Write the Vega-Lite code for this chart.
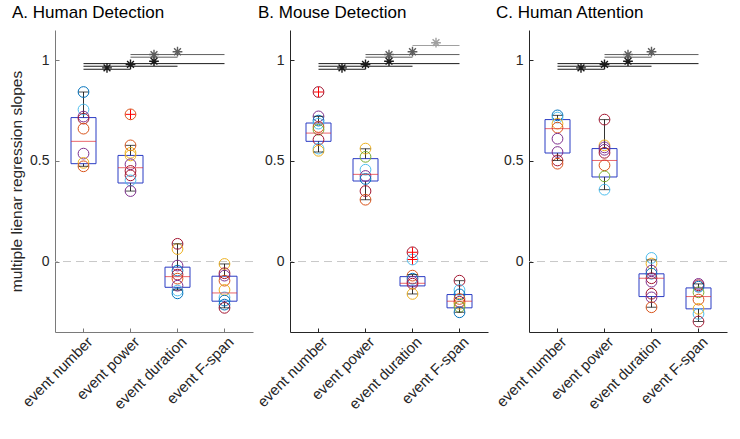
{
"$schema":"https://vega.github.io/schema/vega-lite/v6.json",
"padding":{"left":9,"top":4,"right":0,"bottom":0},
"config":{"view":{"stroke":null},"font":"Liberation Sans","axis":{"grid":false,"labelFontSize":14,"labelColor":"#262626","labelFont":"Liberation Sans","titleFont":"Liberation Sans"},"axisX":{"labelFontSize":15,"labelOverlap":false,"labelOffset":6,"labelPadding":11},"title":{"font":"Liberation Sans"}},
"datasets":{
"pts":[
{"p":"A","k":1,"v":0.842,"c":"blue"},{"p":"A","k":1,"v":0.755,"c":"cyan"},{"p":"A","k":1,"v":0.72,"c":"purple"},{"p":"A","k":1,"v":0.71,"c":"darkred"},{"p":"A","k":1,"v":0.66,"c":"orange"},{"p":"A","k":1,"v":0.536,"c":"purple"},{"p":"A","k":1,"v":0.49,"c":"yellow"},{"p":"A","k":1,"v":0.473,"c":"orange"},
{"p":"A","k":2,"v":0.731,"c":"orange"},{"p":"A","k":2,"v":0.577,"c":"orange"},{"p":"A","k":2,"v":0.54,"c":"yellow"},{"p":"A","k":2,"v":0.527,"c":"yellow"},{"p":"A","k":2,"v":0.483,"c":"purple"},{"p":"A","k":2,"v":0.45,"c":"darkred"},{"p":"A","k":2,"v":0.428,"c":"darkred"},{"p":"A","k":2,"v":0.403,"c":"cyan"},{"p":"A","k":2,"v":0.35,"c":"purple"},
{"p":"A","k":3,"v":0.088,"c":"darkred"},{"p":"A","k":3,"v":0.062,"c":"yellow"},{"p":"A","k":3,"v":-0.02,"c":"purple"},{"p":"A","k":3,"v":-0.045,"c":"blue"},{"p":"A","k":3,"v":-0.065,"c":"darkred"},{"p":"A","k":3,"v":-0.085,"c":"orange"},{"p":"A","k":3,"v":-0.12,"c":"purple"},{"p":"A","k":3,"v":-0.144,"c":"cyan"},{"p":"A","k":3,"v":-0.158,"c":"blue"},
{"p":"A","k":4,"v":-0.012,"c":"yellow"},{"p":"A","k":4,"v":-0.058,"c":"darkred"},{"p":"A","k":4,"v":-0.07,"c":"purple"},{"p":"A","k":4,"v":-0.095,"c":"orange"},{"p":"A","k":4,"v":-0.141,"c":"yellow"},{"p":"A","k":4,"v":-0.178,"c":"cyan"},{"p":"A","k":4,"v":-0.194,"c":"blue"},{"p":"A","k":4,"v":-0.214,"c":"blue"},{"p":"A","k":4,"v":-0.23,"c":"darkred"},
{"p":"B","k":1,"v":0.842,"c":"darkred"},{"p":"B","k":1,"v":0.721,"c":"purple"},{"p":"B","k":1,"v":0.7,"c":"blue"},{"p":"B","k":1,"v":0.685,"c":"cyan"},{"p":"B","k":1,"v":0.668,"c":"orange"},{"p":"B","k":1,"v":0.655,"c":"green"},{"p":"B","k":1,"v":0.605,"c":"darkred"},{"p":"B","k":1,"v":0.561,"c":"cyan"},{"p":"B","k":1,"v":0.55,"c":"yellow"},
{"p":"B","k":2,"v":0.561,"c":"yellow"},{"p":"B","k":2,"v":0.52,"c":"green"},{"p":"B","k":2,"v":0.456,"c":"cyan"},{"p":"B","k":2,"v":0.425,"c":"purple"},{"p":"B","k":2,"v":0.41,"c":"blue"},{"p":"B","k":2,"v":0.35,"c":"darkred"},{"p":"B","k":2,"v":0.307,"c":"orange"},
{"p":"B","k":3,"v":0.046,"c":"darkred"},{"p":"B","k":3,"v":0.01,"c":"cyan"},{"p":"B","k":3,"v":-0.07,"c":"orange"},{"p":"B","k":3,"v":-0.085,"c":"blue"},{"p":"B","k":3,"v":-0.1,"c":"purple"},{"p":"B","k":3,"v":-0.11,"c":"darkred"},{"p":"B","k":3,"v":-0.161,"c":"yellow"},
{"p":"B","k":4,"v":-0.095,"c":"darkred"},{"p":"B","k":4,"v":-0.141,"c":"cyan"},{"p":"B","k":4,"v":-0.163,"c":"blue"},{"p":"B","k":4,"v":-0.186,"c":"orange"},{"p":"B","k":4,"v":-0.2,"c":"darkred"},{"p":"B","k":4,"v":-0.21,"c":"yellow"},{"p":"B","k":4,"v":-0.225,"c":"green"},{"p":"B","k":4,"v":-0.252,"c":"blue"},
{"p":"C","k":1,"v":0.726,"c":"blue"},{"p":"C","k":1,"v":0.715,"c":"cyan"},{"p":"C","k":1,"v":0.685,"c":"yellow"},{"p":"C","k":1,"v":0.665,"c":"orange"},{"p":"C","k":1,"v":0.61,"c":"purple"},{"p":"C","k":1,"v":0.544,"c":"purple"},{"p":"C","k":1,"v":0.502,"c":"darkred"},{"p":"C","k":1,"v":0.486,"c":"orange"},
{"p":"C","k":2,"v":0.705,"c":"darkred"},{"p":"C","k":2,"v":0.577,"c":"yellow"},{"p":"C","k":2,"v":0.567,"c":"purple"},{"p":"C","k":2,"v":0.555,"c":"purple"},{"p":"C","k":2,"v":0.54,"c":"darkred"},{"p":"C","k":2,"v":0.478,"c":"orange"},{"p":"C","k":2,"v":0.423,"c":"green"},{"p":"C","k":2,"v":0.357,"c":"cyan"},
{"p":"C","k":3,"v":0.018,"c":"cyan"},{"p":"C","k":3,"v":-0.01,"c":"yellow"},{"p":"C","k":3,"v":-0.045,"c":"purple"},{"p":"C","k":3,"v":-0.06,"c":"blue"},{"p":"C","k":3,"v":-0.083,"c":"darkred"},{"p":"C","k":3,"v":-0.1,"c":"purple"},{"p":"C","k":3,"v":-0.16,"c":"darkred"},{"p":"C","k":3,"v":-0.178,"c":"purple"},{"p":"C","k":3,"v":-0.227,"c":"orange"},
{"p":"C","k":4,"v":-0.111,"c":"purple"},{"p":"C","k":4,"v":-0.118,"c":"darkred"},{"p":"C","k":4,"v":-0.125,"c":"blue"},{"p":"C","k":4,"v":-0.153,"c":"green"},{"p":"C","k":4,"v":-0.189,"c":"orange"},{"p":"C","k":4,"v":-0.235,"c":"yellow"},{"p":"C","k":4,"v":-0.26,"c":"cyan"},{"p":"C","k":4,"v":-0.298,"c":"darkred"}
],
"box":[
{"p":"A","k":1,"q1":0.486,"med":0.597,"q3":0.715,"lo":0.473,"hi":0.842},
{"p":"A","k":2,"q1":0.39,"med":0.466,"q3":0.527,"lo":0.35,"hi":0.577},
{"p":"A","k":3,"q1":-0.128,"med":-0.075,"q3":-0.028,"lo":-0.141,"hi":0.088},
{"p":"A","k":4,"q1":-0.197,"med":-0.156,"q3":-0.073,"lo":-0.23,"hi":-0.012},
{"p":"B","k":1,"q1":0.597,"med":0.638,"q3":0.688,"lo":0.544,"hi":0.721},
{"p":"B","k":2,"q1":0.4,"med":0.433,"q3":0.511,"lo":0.307,"hi":0.56},
{"p":"B","k":3,"q1":-0.121,"med":-0.108,"q3":-0.075,"lo":-0.161,"hi":-0.065},
{"p":"B","k":4,"q1":-0.23,"med":-0.197,"q3":-0.164,"lo":-0.252,"hi":-0.095},
{"p":"C","k":1,"q1":0.539,"med":0.66,"q3":0.705,"lo":0.502,"hi":0.726},
{"p":"C","k":2,"q1":0.42,"med":0.502,"q3":0.561,"lo":0.357,"hi":0.705},
{"p":"C","k":3,"q1":-0.174,"med":-0.083,"q3":-0.061,"lo":-0.227,"hi":0.008},
{"p":"C","k":4,"q1":-0.235,"med":-0.174,"q3":-0.131,"lo":-0.298,"hi":-0.111}
],
"out":[{"p":"A","k":2,"v":0.731},{"p":"B","k":1,"v":0.842},{"p":"B","k":3,"v":0.046},{"p":"B","k":3,"v":0.01}],
"sig":[
{"p":"A","a":1,"b":2,"ly":0.955,"sx":1.5,"sy":0.962,"g":"k"},{"p":"A","a":1,"b":3,"ly":0.97,"sx":2,"sy":0.979,"g":"k"},{"p":"A","a":1,"b":4,"ly":0.983,"sx":2.5,"sy":0.995,"g":"k"},{"p":"A","a":2,"b":3,"ly":1.015,"sx":2.5,"sy":1.028,"g":"g"},{"p":"A","a":2,"b":4,"ly":1.028,"sx":3,"sy":1.042,"g":"g"},
{"p":"B","a":1,"b":2,"ly":0.955,"sx":1.5,"sy":0.962,"g":"k"},{"p":"B","a":1,"b":3,"ly":0.97,"sx":2,"sy":0.979,"g":"k"},{"p":"B","a":1,"b":4,"ly":0.983,"sx":2.5,"sy":0.995,"g":"k"},{"p":"B","a":2,"b":3,"ly":1.015,"sx":2.5,"sy":1.028,"g":"g"},{"p":"B","a":2,"b":4,"ly":1.028,"sx":3,"sy":1.042,"g":"g"},{"p":"B","a":3,"b":4,"ly":1.073,"sx":3.5,"sy":1.087,"g":"lg"},
{"p":"C","a":1,"b":2,"ly":0.955,"sx":1.5,"sy":0.962,"g":"k"},{"p":"C","a":1,"b":3,"ly":0.97,"sx":2,"sy":0.979,"g":"k"},{"p":"C","a":1,"b":4,"ly":0.983,"sx":2.5,"sy":0.995,"g":"k"},{"p":"C","a":2,"b":3,"ly":1.015,"sx":2.5,"sy":1.028,"g":"g"},{"p":"C","a":2,"b":4,"ly":1.028,"sx":3,"sy":1.042,"g":"g"}
]
},
"spacing":0,
"hconcat":[
{"width":198,"height":302,
"title":{"text":"A. Human Detection","anchor":"start","frame":"group","dx":-43,"fontSize":17,"fontWeight":"normal","color":"#000000","offset":8},
"layer":[
{"data":{"values":[{}]},"mark":{"type":"rule","color":"#c8c8c8","strokeDash":[8,5]},"encoding":{"y":{"datum":0,"type":"quantitative"}}},
{"data":{"name":"box"},"transform":[{"filter":"datum.p=='A'"}],"mark":{"type":"bar","width":25,"fill":"transparent","stroke":"#2b3cc4","strokeWidth":1},
 "encoding":{"x":{"field":"k","type":"quantitative","scale":{"domain":[0.5,4.5],"nice":false,"zero":false},"axis":{"title":null,"values":[1,2,3,4],"labelExpr":"datum.value==1?'event number':datum.value==2?'event power':datum.value==3?'event duration':'event F-span'","labelAngle":-45,"labelAlign":"right","labelBaseline":"middle","domainColor":"#7a7a7a","tickColor":"#7a7a7a","tickSize":-4}},
 "y":{"field":"q1","type":"quantitative","scale":{"domain":[-0.35,1.15],"nice":false,"zero":false},"axis":{"title":"multiple lienar regression slopes","values":[0,0.5,1],"format":"~g","domainColor":"#7a7a7a","tickColor":"#7a7a7a","tickSize":-4,"labelPadding":10,"titleFontSize":15.5,"titleFontWeight":"normal","titleColor":"#262626","titlePadding":5}},
 "y2":{"field":"q3"}}},
{"data":{"name":"box"},"transform":[{"filter":"datum.p=='A'"}],"mark":{"type":"rule","color":"#333333"},"encoding":{"x":{"field":"k","type":"quantitative"},"y":{"field":"q3","type":"quantitative"},"y2":{"field":"hi"}}},
{"data":{"name":"box"},"transform":[{"filter":"datum.p=='A'"}],"mark":{"type":"rule","color":"#333333"},"encoding":{"x":{"field":"k","type":"quantitative"},"y":{"field":"lo","type":"quantitative"},"y2":{"field":"q1"}}},
{"data":{"name":"pts"},"transform":[{"filter":"datum.p=='A'"}],"mark":{"type":"point","shape":"circle","filled":false,"size":115,"strokeWidth":1,"opacity":1},"encoding":{"x":{"field":"k","type":"quantitative"},"y":{"field":"v","type":"quantitative"},"color":{"field":"c","type":"nominal","legend":null,"scale":{"domain":["blue","orange","yellow","purple","green","cyan","darkred","k","g","lg"],"range":["#0072BD","#D95319","#EDB120","#7E2F8E","#77AC30","#4DBEEE","#A2142F","#1a1a1a","#5e5e5e","#a0a0a0"]}}}},
{"data":{"name":"box"},"transform":[{"filter":"datum.p=='A'"}],"mark":{"type":"tick","orient":"horizontal","color":"#000000","size":10,"thickness":1},"encoding":{"x":{"field":"k","type":"quantitative"},"y":{"field":"hi","type":"quantitative"}}},
{"data":{"name":"box"},"transform":[{"filter":"datum.p=='A'"}],"mark":{"type":"tick","orient":"horizontal","color":"#000000","size":10,"thickness":1},"encoding":{"x":{"field":"k","type":"quantitative"},"y":{"field":"lo","type":"quantitative"}}},
{"data":{"name":"box"},"transform":[{"filter":"datum.p=='A'"}],"mark":{"type":"tick","orient":"horizontal","color":"#e0262e","size":25,"thickness":1},"encoding":{"x":{"field":"k","type":"quantitative"},"y":{"field":"med","type":"quantitative"}}},
{"data":{"name":"out"},"transform":[{"filter":"datum.p=='A'"}],"mark":{"type":"point","shape":"M-1,0L1,0M0,-1L0,1","filled":false,"size":100,"color":"#ff0000","strokeWidth":1,"opacity":1},"encoding":{"x":{"field":"k","type":"quantitative"},"y":{"field":"v","type":"quantitative"}}},
{"data":{"name":"sig"},"transform":[{"filter":"datum.p=='A'"}],"mark":{"type":"rule","strokeWidth":1},"encoding":{"x":{"field":"a","type":"quantitative"},"x2":{"field":"b"},"y":{"field":"ly","type":"quantitative"},"color":{"field":"g","type":"nominal","legend":null}}},
{"data":{"name":"sig"},"transform":[{"filter":"datum.p=='A'"}],"mark":{"type":"point","shape":"M-1,0L1,0M0,-1L0,1M-0.7,-0.7L0.7,0.7M-0.7,0.7L0.7,-0.7","filled":false,"size":95,"strokeWidth":1.4,"opacity":1},"encoding":{"x":{"field":"sx","type":"quantitative"},"y":{"field":"sy","type":"quantitative"},"color":{"field":"g","type":"nominal","legend":null}}}
]},
{"spacing":4,"hconcat":[
{"width":198,"height":302,
"title":{"text":"B. Mouse Detection","anchor":"start","frame":"group","dx":-32,"fontSize":17,"fontWeight":"normal","color":"#000000","offset":8},
"layer":[
{"data":{"values":[{}]},"mark":{"type":"rule","color":"#c8c8c8","strokeDash":[8,5]},"encoding":{"y":{"datum":0,"type":"quantitative"}}},
{"data":{"name":"box"},"transform":[{"filter":"datum.p=='B'"}],"mark":{"type":"bar","width":25,"fill":"transparent","stroke":"#2b3cc4","strokeWidth":1},
 "encoding":{"x":{"field":"k","type":"quantitative","scale":{"domain":[0.5,4.5],"nice":false,"zero":false},"axis":{"title":null,"values":[1,2,3,4],"labelExpr":"datum.value==1?'event number':datum.value==2?'event power':datum.value==3?'event duration':'event F-span'","labelAngle":-45,"labelAlign":"right","labelBaseline":"middle","domainColor":"#262626","tickColor":"#262626","tickSize":-4}},
 "y":{"field":"q1","type":"quantitative","scale":{"domain":[-0.35,1.15],"nice":false,"zero":false},"axis":{"title":null,"values":[0,0.5,1],"format":"~g","domainColor":"#262626","tickColor":"#262626","tickSize":-4,"labelPadding":10}},
 "y2":{"field":"q3"}}},
{"data":{"name":"box"},"transform":[{"filter":"datum.p=='B'"}],"mark":{"type":"rule","color":"#333333"},"encoding":{"x":{"field":"k","type":"quantitative"},"y":{"field":"q3","type":"quantitative"},"y2":{"field":"hi"}}},
{"data":{"name":"box"},"transform":[{"filter":"datum.p=='B'"}],"mark":{"type":"rule","color":"#333333"},"encoding":{"x":{"field":"k","type":"quantitative"},"y":{"field":"lo","type":"quantitative"},"y2":{"field":"q1"}}},
{"data":{"name":"pts"},"transform":[{"filter":"datum.p=='B'"}],"mark":{"type":"point","shape":"circle","filled":false,"size":115,"strokeWidth":1,"opacity":1},"encoding":{"x":{"field":"k","type":"quantitative"},"y":{"field":"v","type":"quantitative"},"color":{"field":"c","type":"nominal","legend":null,"scale":{"domain":["blue","orange","yellow","purple","green","cyan","darkred","k","g","lg"],"range":["#0072BD","#D95319","#EDB120","#7E2F8E","#77AC30","#4DBEEE","#A2142F","#1a1a1a","#5e5e5e","#a0a0a0"]}}}},
{"data":{"name":"box"},"transform":[{"filter":"datum.p=='B'"}],"mark":{"type":"tick","orient":"horizontal","color":"#000000","size":10,"thickness":1},"encoding":{"x":{"field":"k","type":"quantitative"},"y":{"field":"hi","type":"quantitative"}}},
{"data":{"name":"box"},"transform":[{"filter":"datum.p=='B'"}],"mark":{"type":"tick","orient":"horizontal","color":"#000000","size":10,"thickness":1},"encoding":{"x":{"field":"k","type":"quantitative"},"y":{"field":"lo","type":"quantitative"}}},
{"data":{"name":"box"},"transform":[{"filter":"datum.p=='B'"}],"mark":{"type":"tick","orient":"horizontal","color":"#e0262e","size":25,"thickness":1},"encoding":{"x":{"field":"k","type":"quantitative"},"y":{"field":"med","type":"quantitative"}}},
{"data":{"name":"out"},"transform":[{"filter":"datum.p=='B'"}],"mark":{"type":"point","shape":"M-1,0L1,0M0,-1L0,1","filled":false,"size":100,"color":"#ff0000","strokeWidth":1,"opacity":1},"encoding":{"x":{"field":"k","type":"quantitative"},"y":{"field":"v","type":"quantitative"}}},
{"data":{"name":"sig"},"transform":[{"filter":"datum.p=='B'"}],"mark":{"type":"rule","strokeWidth":1},"encoding":{"x":{"field":"a","type":"quantitative"},"x2":{"field":"b"},"y":{"field":"ly","type":"quantitative"},"color":{"field":"g","type":"nominal","legend":null}}},
{"data":{"name":"sig"},"transform":[{"filter":"datum.p=='B'"}],"mark":{"type":"point","shape":"M-1,0L1,0M0,-1L0,1M-0.7,-0.7L0.7,0.7M-0.7,0.7L0.7,-0.7","filled":false,"size":95,"strokeWidth":1.4,"opacity":1},"encoding":{"x":{"field":"sx","type":"quantitative"},"y":{"field":"sy","type":"quantitative"},"color":{"field":"g","type":"nominal","legend":null}}}
]},
{"width":198,"height":302,
"title":{"text":"C. Human Attention","anchor":"start","frame":"group","dx":-33,"fontSize":17,"fontWeight":"normal","color":"#000000","offset":8},
"layer":[
{"data":{"values":[{}]},"mark":{"type":"rule","color":"#c8c8c8","strokeDash":[8,5]},"encoding":{"y":{"datum":0,"type":"quantitative"}}},
{"data":{"name":"box"},"transform":[{"filter":"datum.p=='C'"}],"mark":{"type":"bar","width":25,"fill":"transparent","stroke":"#2b3cc4","strokeWidth":1},
 "encoding":{"x":{"field":"k","type":"quantitative","scale":{"domain":[0.5,4.5],"nice":false,"zero":false},"axis":{"title":null,"values":[1,2,3,4],"labelExpr":"datum.value==1?'event number':datum.value==2?'event power':datum.value==3?'event duration':'event F-span'","labelAngle":-45,"labelAlign":"right","labelBaseline":"middle","domainColor":"#262626","tickColor":"#262626","tickSize":-4}},
 "y":{"field":"q1","type":"quantitative","scale":{"domain":[-0.35,1.15],"nice":false,"zero":false},"axis":{"title":null,"values":[0,0.5,1],"format":"~g","domainColor":"#262626","tickColor":"#262626","tickSize":-4,"labelPadding":10}},
 "y2":{"field":"q3"}}},
{"data":{"name":"box"},"transform":[{"filter":"datum.p=='C'"}],"mark":{"type":"rule","color":"#333333"},"encoding":{"x":{"field":"k","type":"quantitative"},"y":{"field":"q3","type":"quantitative"},"y2":{"field":"hi"}}},
{"data":{"name":"box"},"transform":[{"filter":"datum.p=='C'"}],"mark":{"type":"rule","color":"#333333"},"encoding":{"x":{"field":"k","type":"quantitative"},"y":{"field":"lo","type":"quantitative"},"y2":{"field":"q1"}}},
{"data":{"name":"pts"},"transform":[{"filter":"datum.p=='C'"}],"mark":{"type":"point","shape":"circle","filled":false,"size":115,"strokeWidth":1,"opacity":1},"encoding":{"x":{"field":"k","type":"quantitative"},"y":{"field":"v","type":"quantitative"},"color":{"field":"c","type":"nominal","legend":null,"scale":{"domain":["blue","orange","yellow","purple","green","cyan","darkred","k","g","lg"],"range":["#0072BD","#D95319","#EDB120","#7E2F8E","#77AC30","#4DBEEE","#A2142F","#1a1a1a","#5e5e5e","#a0a0a0"]}}}},
{"data":{"name":"box"},"transform":[{"filter":"datum.p=='C'"}],"mark":{"type":"tick","orient":"horizontal","color":"#000000","size":10,"thickness":1},"encoding":{"x":{"field":"k","type":"quantitative"},"y":{"field":"hi","type":"quantitative"}}},
{"data":{"name":"box"},"transform":[{"filter":"datum.p=='C'"}],"mark":{"type":"tick","orient":"horizontal","color":"#000000","size":10,"thickness":1},"encoding":{"x":{"field":"k","type":"quantitative"},"y":{"field":"lo","type":"quantitative"}}},
{"data":{"name":"box"},"transform":[{"filter":"datum.p=='C'"}],"mark":{"type":"tick","orient":"horizontal","color":"#e0262e","size":25,"thickness":1},"encoding":{"x":{"field":"k","type":"quantitative"},"y":{"field":"med","type":"quantitative"}}},
{"data":{"name":"sig"},"transform":[{"filter":"datum.p=='C'"}],"mark":{"type":"rule","strokeWidth":1},"encoding":{"x":{"field":"a","type":"quantitative"},"x2":{"field":"b"},"y":{"field":"ly","type":"quantitative"},"color":{"field":"g","type":"nominal","legend":null}}},
{"data":{"name":"sig"},"transform":[{"filter":"datum.p=='C'"}],"mark":{"type":"point","shape":"M-1,0L1,0M0,-1L0,1M-0.7,-0.7L0.7,0.7M-0.7,0.7L0.7,-0.7","filled":false,"size":95,"strokeWidth":1.4,"opacity":1},"encoding":{"x":{"field":"sx","type":"quantitative"},"y":{"field":"sy","type":"quantitative"},"color":{"field":"g","type":"nominal","legend":null}}}
]}
]}
]
}
